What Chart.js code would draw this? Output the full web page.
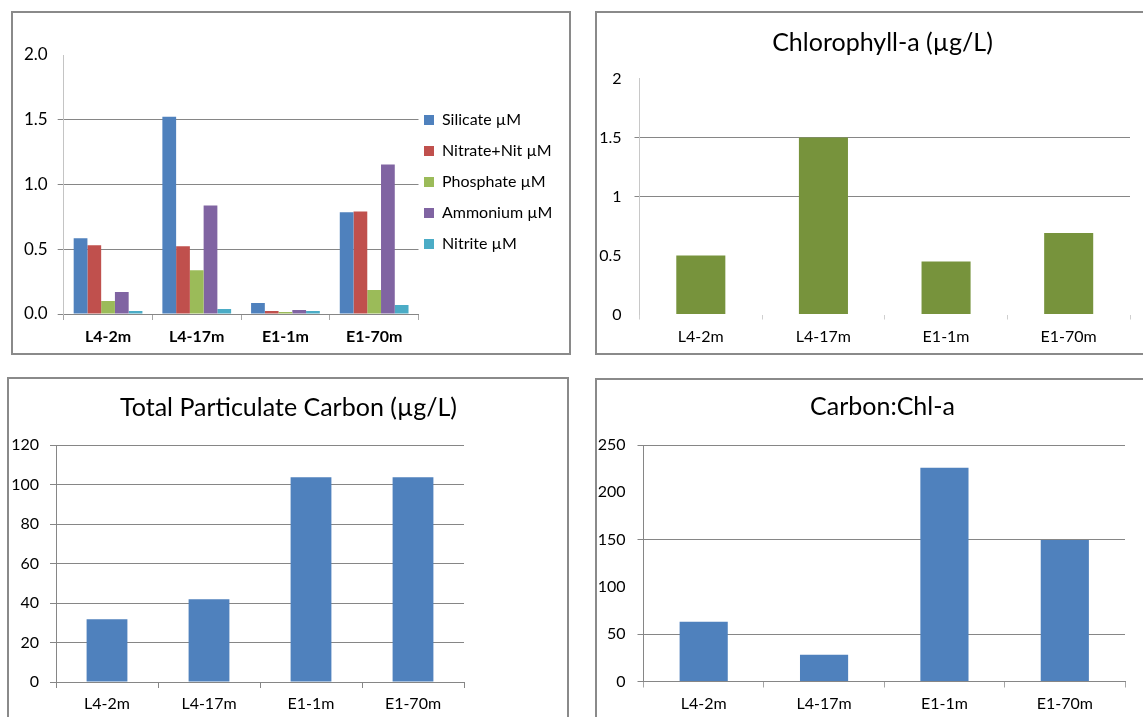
<!DOCTYPE html>
<html>
<head>
<meta charset="utf-8">
<script src="https://cdn.jsdelivr.net/npm/chart.js@4/dist/chart.umd.min.js"></script>
<style>
  html, body { margin: 0; padding: 0; background: #fff; }
  body { position: relative; width: 1143px; height: 717px; overflow: hidden; }
  .frame { position: absolute; border: 2px solid #8a8a8a; box-sizing: border-box; }
  canvas { position: absolute; }
</style>
</head>
<body>
<div class="frame" style="left:11px;top:11px;width:560px;height:344px"></div>
<div class="frame" style="left:595px;top:11px;width:620px;height:344px"></div>
<div class="frame" style="left:7px;top:377px;width:562px;height:400px"></div>
<div class="frame" style="left:595px;top:378px;width:620px;height:400px"></div>

<canvas id="nutrients" width="556" height="340" style="left:13px;top:13px"></canvas>
<canvas id="chla" width="571" height="340" style="left:597px;top:13px"></canvas>
<canvas id="tpc" width="559" height="338" style="left:9px;top:379px"></canvas>
<canvas id="ratio" width="571" height="337" style="left:597px;top:380px"></canvas>

<script>
// Sampling stations (station-depth)
const stations = ['L4-2m', 'L4-17m', 'E1-1m', 'E1-70m'];

// Dissolved nutrients, µM
const silicate = [0.585, 1.523, 0.085, 0.785];
const nitrateNitrite = [0.53, 0.523, 0.023, 0.792];
const phosphate = [0.10, 0.338, 0.015, 0.185];
const ammonium = [0.17, 0.838, 0.031, 1.154];
const nitrite = [0.023, 0.038, 0.023, 0.069];
const nutrientNames = ['Silicate µM', 'Nitrate+Nit µM', 'Phosphate µM', 'Ammonium µM', 'Nitrite µM'];

// Pigment and carbon
const chlorophyll = [0.50, 1.50, 0.45, 0.69];          // µg/L
const particulateCarbon = [31.8, 41.9, 103.7, 103.7];  // µg/L
const carbonToChl = [63.1, 28.2, 226, 149.5];

// Axis tick values
const nutrientTicks = [0, 0.5, 1.0, 1.5, 2.0];
const chlTicks = [0, 0.5, 1, 1.5, 2];
const tpcTicks = [0, 20, 40, 60, 80, 100, 120];
const ratioTicks = [0, 50, 100, 150, 200, 250];

// Titles
const chlTitle = 'Chlorophyll-a (µg/L)';
const tpcTitle = 'Total Particulate Carbon (µg/L)';
const ratioTitle = 'Carbon:Chl-a';

Chart.defaults.font.family = 'Lato, "Open Sans", "DejaVu Sans", sans-serif';
Chart.defaults.color = '#000';
Chart.defaults.animation = false;
Chart.defaults.responsive = false;
Chart.defaults.devicePixelRatio = 1;
Chart.defaults.plugins.tooltip.enabled = false;

const GRID = '#868686';
const CLEAR = 'rgba(0,0,0,0)';

function gridColor(hidden) {
  return c => (c.tick && hidden.includes(c.tick.value)) ? CLEAR : GRID;
}

// y axis with a fixed width so the plot area starts where it should
function valueAxis(ticks, width, opts) {
  return {
    type: 'linear',
    min: ticks[0],
    max: ticks[ticks.length - 1],
    afterBuildTicks: s => { s.ticks = ticks.map(v => ({ value: v })); },
    afterFit: s => { s.width = width; },
    ticks: {
      font: { size: opts.fontSize || 16 },
      padding: opts.tickPad,
      callback: opts.format || (v => String(v))
    },
    grid: { color: gridColor(opts.hidden || []), tickLength: opts.tickLen || 6 },
    border: { color: opts.axisColor || GRID, width: 1 }
  };
}

function stationAxis(height, opts) {
  return {
    type: 'category',
    afterFit: s => { s.height = height; },
    ticks: { font: { size: opts.fontSize || 16, weight: opts.weight || 'normal' }, padding: opts.tickPad },
    grid: { offset: true, drawOnChartArea: false, tickLength: opts.tickLen || 6, color: opts.tickColor || '#a6a6a6' },
    border: { display: opts.showLine !== false, color: opts.lineColor || GRID, width: 1 }
  };
}

// empty strip on the right so that the title is centred over the whole frame
function rightSpacer(width) {
  return {
    type: 'linear', position: 'right', display: true,
    afterFit: s => { s.width = width; },
    ticks: { display: false }, grid: { display: false }, border: { display: false }
  };
}

function titleOpts(text, padTop, padBottom) {
  return {
    display: true, text: text, color: '#000', fullSize: true,
    font: { size: 25, weight: 'normal', lineHeight: 1.2 },
    padding: { top: padTop, bottom: padBottom }
  };
}

// --- Nutrients (grouped bars with legend on the right)
const legendNudge = {
  id: 'legendNudge',
  afterLayout(chart) {
    const lg = chart.legend;
    if (!lg) return;
    const dx = 411 - (lg.left + lg.options.labels.padding);
    lg.left += dx;
    lg.right = chart.width;
    lg.width = lg.right - lg.left;
    lg.top -= 2.5; lg.bottom -= 2.5;
  }
};

new Chart(document.getElementById('nutrients'), {
  type: 'bar',
  data: {
    labels: stations,
    datasets: [
      { label: nutrientNames[0], data: silicate, backgroundColor: '#4f81bd' },
      { label: nutrientNames[1], data: nitrateNitrite, backgroundColor: '#c0504d' },
      { label: nutrientNames[2], data: phosphate, backgroundColor: '#9bbb59' },
      { label: nutrientNames[3], data: ammonium, backgroundColor: '#8064a2' },
      { label: nutrientNames[4], data: nitrite, backgroundColor: '#4bacc6' }
    ]
  },
  options: {
    layout: { padding: { top: 42, right: 50.5, bottom: 0, left: 0 } },
    datasets: { bar: { categoryPercentage: 0.775, barPercentage: 1, borderWidth: 0 } },
    scales: {
      x: stationAxis(39, { fontSize: 16, weight: 'bold', tickPad: 7, lineColor: GRID, tickColor: '#a6a6a6' }),
      y: valueAxis(nutrientTicks, 50.7, {
        fontSize: 17, tickPad: 10, hidden: [2], axisColor: '#c4c4c4',
        format: v => v.toFixed(1)
      })
    },
    plugins: {
      legend: {
        display: true, position: 'right', fullSize: false, maxWidth: 100,
        labels: { boxWidth: 10, boxHeight: 10, padding: 15, color: '#000', font: { size: 16 } }
      },
      title: { display: false }
    }
  },
  plugins: [legendNudge]
});

// --- Chlorophyll-a
new Chart(document.getElementById('chla'), {
  type: 'bar',
  data: { labels: stations, datasets: [{ label: chlTitle, data: chlorophyll, backgroundColor: '#77933c' }] },
  options: {
    layout: { padding: 0 },
    datasets: { bar: { categoryPercentage: 0.4, barPercentage: 1, borderWidth: 0 } },
    scales: {
      x: stationAxis(38.5, { tickPad: 8, tickLen: 5, showLine: false, tickColor: '#cfcfcf' }),
      y: valueAxis(chlTicks, 42.5, { tickPad: 13, tickLen: 5, hidden: [0, 0.5, 2], axisColor: '#c8c8c8' }),
      pad: rightSpacer(38)
    },
    plugins: { legend: { display: false }, title: titleOpts(chlTitle, 14.5, 21) }
  }
});

// --- Total particulate carbon
new Chart(document.getElementById('tpc'), {
  type: 'bar',
  data: { labels: stations, datasets: [{ label: tpcTitle, data: particulateCarbon, backgroundColor: '#4f81bd' }] },
  options: {
    layout: { padding: 0 },
    datasets: { bar: { categoryPercentage: 0.4, barPercentage: 1, borderWidth: 0 } },
    scales: {
      x: stationAxis(35, { tickPad: 6.4, tickLen: 6, lineColor: GRID, tickColor: GRID }),
      y: valueAxis(tpcTicks, 47, { tickPad: 11, tickLen: 6, hidden: [], axisColor: GRID }),
      pad: rightSpacer(104)
    },
    plugins: { legend: { display: false }, title: titleOpts(tpcTitle, 13.5, 22.5) }
  }
});

// --- Carbon to chlorophyll ratio
new Chart(document.getElementById('ratio'), {
  type: 'bar',
  data: { labels: stations, datasets: [{ label: ratioTitle, data: carbonToChl, backgroundColor: '#4f81bd' }] },
  options: {
    layout: { padding: 0 },
    datasets: { bar: { categoryPercentage: 0.4, barPercentage: 1, borderWidth: 0 } },
    scales: {
      x: stationAxis(35.5, { tickPad: 7, tickLen: 6, lineColor: GRID, tickColor: '#a6a6a6' }),
      y: valueAxis(ratioTicks, 46.5, { tickPad: 12, tickLen: 6, hidden: [100, 200], axisColor: GRID }),
      pad: rightSpacer(43)
    },
    plugins: { legend: { display: false }, title: titleOpts(ratioTitle, 12, 23) }
  }
});
</script>
</body>
</html>
